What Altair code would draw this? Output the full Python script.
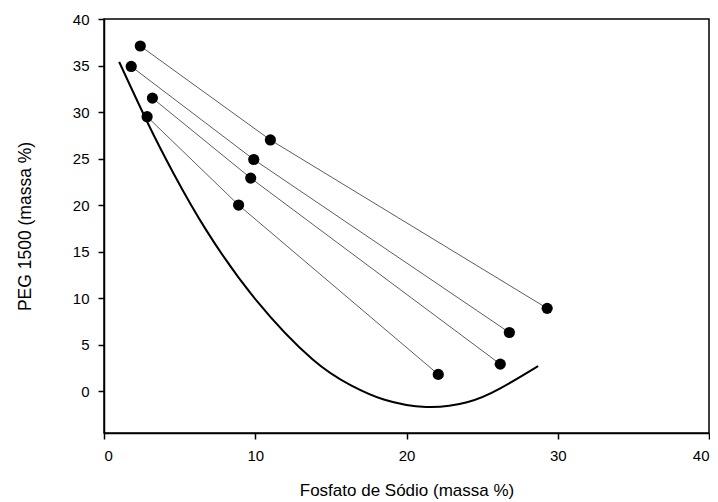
import altair as alt
import pandas as pd

# Tie lines: top phase, overall mixture, bottom phase
tie_id = ["A", "A", "A", "B", "B", "B", "C", "C", "C", "D", "D", "D"]
tie_x = [2.4, 11.0, 29.3, 1.8, 9.9, 26.8, 3.2, 9.7, 26.2, 2.85, 8.9, 22.1]
tie_y = [37.1, 27.0, 8.9, 34.9, 24.9, 6.3, 31.5, 22.9, 2.9, 29.5, 20.0, 1.8]

# Binodal curve
curve_x = [1.0, 2.9, 4.6, 6.8, 10.1, 13.8, 16.3, 18.5, 21.3, 24.0, 26.2, 28.7]
curve_y = [35.4, 28.8, 23.4, 17.2, 9.7, 3.4, 0.65, -0.9, -1.7, -1.2, 0.3, 2.7]

x_ticks = [0, 10, 20, 30, 40]
y_ticks = [0, 5, 10, 15, 20, 25, 30, 35, 40]

ties = pd.DataFrame({"id": tie_id, "x": tie_x, "y": tie_y})
curve = pd.DataFrame({"x": curve_x, "y": curve_y})

FONT = "Liberation Sans"
xscale = alt.Scale(domain=[0, 40], nice=False, zero=False)
yscale = alt.Scale(domain=[-4.5, 40], nice=False, zero=False)

xaxis = alt.Axis(values=x_ticks, title="Fosfato de Sódio (massa %)", grid=False,
                 tickSize=6, tickColor="black", domainColor="black", domainWidth=1.5,
                 tickWidth=1.5, labelFontSize=15, labelColor="black", labelFont=FONT,
                 titleFont=FONT, titleFontSize=17, titleFontWeight="normal",
                 titleColor="black", labelPadding=9, titlePadding=19)
yaxis = alt.Axis(values=y_ticks, title="PEG 1500 (massa %)", grid=False,
                 tickSize=6, tickColor="black", domainColor="black", domainWidth=1.5,
                 tickWidth=1.5, labelFontSize=15, labelColor="black", labelFont=FONT,
                 titleFont=FONT, titleFontSize=17.5, titleFontWeight="normal",
                 titleColor="black", labelPadding=9, titlePadding=38)

lines = alt.Chart(ties).mark_line(color="#333333", strokeWidth=0.8).encode(
    x=alt.X("x:Q", scale=xscale, axis=xaxis),
    y=alt.Y("y:Q", scale=yscale, axis=yaxis),
    detail="id:N",
    order="x:Q",
)
points = alt.Chart(ties).mark_point(filled=True, color="black", size=125, opacity=1).encode(
    x=alt.X("x:Q", scale=xscale),
    y=alt.Y("y:Q", scale=yscale),
)
binodal = alt.Chart(curve).mark_line(color="black", strokeWidth=2, interpolate="natural").encode(
    x=alt.X("x:Q", scale=xscale),
    y=alt.Y("y:Q", scale=yscale),
    order="x:Q",
)

chart = alt.layer(binodal, lines, points).properties(
    width=605, height=414,
    background="white",
    autosize=alt.AutoSizeParams(type="none"),
    padding={"left": 96, "top": 11, "right": 1, "bottom": 72},
).configure_view(stroke="black", strokeWidth=1.5)

chart.save("out.html", embed_options={"renderer": "svg", "actions": False})
